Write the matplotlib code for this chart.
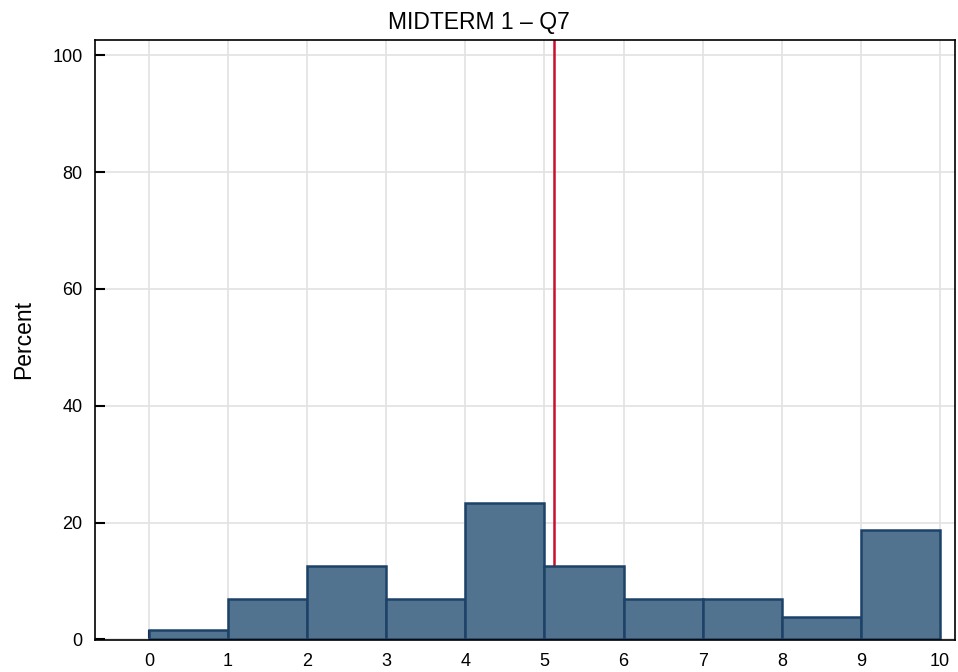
import matplotlib
matplotlib.use("Agg")
import matplotlib.pyplot as plt
import numpy as np

plt.rcParams['font.family'] = ['Liberation Sans', 'DejaVu Sans']

bin_edges = [0, 1, 2, 3, 4, 5, 6, 7, 8, 9, 10]
percent = [1.56, 7.0, 12.5, 7.0, 23.3, 12.5, 7.0, 7.0, 3.9, 18.7]
mean_score = 5.12
title = "MIDTERM 1 \u2013 Q7"

fig = plt.figure(figsize=(9.58, 6.72), dpi=100)
ax = fig.add_axes([0.0992, 0.0476, 0.8977, 0.8929])

left = np.array(bin_edges[:-1])
widths = np.diff(bin_edges)
ax.bar(left, percent, width=widths, align='edge', color='#52738f',
       edgecolor='#1d4268', linewidth=1.8, zorder=2)
# mean line sits behind the bars
ax.axvline(mean_score, color='#c8102e', linewidth=1.8, zorder=1.5)

ax.set_xlim(-0.68, 10.19)
ax.set_ylim(-0.1, 102.6)
ax.set_xticks(bin_edges)
ax.set_yticks([0, 20, 40, 60, 80, 100])
ax.grid(True, color='#e2e2e2', linewidth=1.2, zorder=0)
ax.set_axisbelow(True)
ax.tick_params(direction='in', length=7, width=1.5, labelsize=13, color='black')
ax.tick_params(axis='y', pad=9)
ax.tick_params(axis='x', pad=9)
for s in ax.spines.values():
    s.set_linewidth(1.2)
ax.set_ylabel("Percent", fontsize=16.5, labelpad=12)
fig.text(0.5, 0.967, title, fontsize=16.5, ha='center', va='center')

fig.savefig("out.png", dpi=100)
